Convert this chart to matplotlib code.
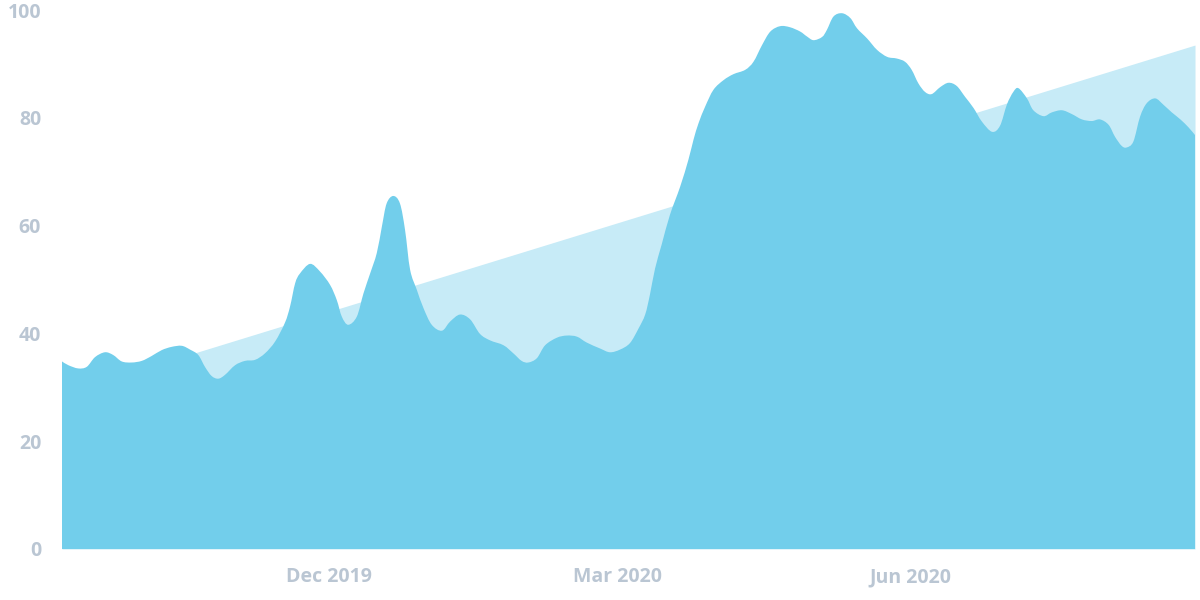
import pandas as pd
import matplotlib
matplotlib.use("Agg")
import matplotlib.pyplot as plt
import matplotlib.dates as mdates
from matplotlib.path import Path
from matplotlib.patches import PathPatch

# days after the first sample, and the value
start_date = "2019-09-08"
day_offsets = [
    0, 2, 5.1, 7.8, 10.4, 13.5, 16.1, 18.8, 21.9, 25.1, 28.2, 31.4, 34.5, 37.7, 40.3, 42.9,
    45.0, 47.1, 49.2, 51.3, 54.5, 57.6, 60.8, 63.9, 67.1, 70.2, 71.8, 73.4, 74.9, 78.1, 81.2,
    84.4, 86.5, 88.1, 90.1, 92.8, 94.9, 97.0, 99.1, 100.7, 102.2, 104.3, 106.4, 108.0, 109.6,
    111.7, 113.8, 116.4, 119.6, 122.2, 125.3, 128.5, 131.6, 134.8, 139.0, 142.1, 144.7, 146.8,
    149.5, 152.1, 155.8, 158.9, 162.1, 165.2, 169.4, 172.5, 175.7, 178.8, 181.5, 183.6, 185.1,
    186.7, 188.8, 191.4, 194.6, 197.2, 198.8, 200.4, 202.5, 205.1, 208.3, 211.4, 215.1, 217.7,
    220.4, 223.0, 226.1, 229.2, 232.4, 234.5, 236.6, 239.3, 240.8, 242.9, 245.6, 248.2, 250.3,
    253.5, 256.6, 259.8, 262.8, 265.4, 267.5, 269.6, 271.7, 273.8, 276.5, 279.1, 281.7, 284.3,
    287.0, 289.6, 292.8, 295.3, 297.5, 299.5, 301.1, 303.8, 305.8, 309.0, 311.6, 314.8, 317.9,
    321.1, 324.2, 326.8, 329.5, 331.5, 333.6, 335.2, 337.3, 339.4, 341.5, 344.2, 346.8, 349.4,
    352.1, 354.7, 356.7,
]
values = [
    34.8, 34.1, 33.5, 33.8, 35.6, 36.5, 36.0, 34.8, 34.6, 34.9, 35.8, 36.9, 37.5, 37.7, 37.0, 36.0,
    33.8, 32.1, 31.6, 32.3, 34.1, 34.9, 35.1, 36.3, 38.5, 42.0, 45.0, 49.3, 51.1, 52.9, 51.5,
    49.0, 46.2, 43.1, 41.6, 43.1, 47.4, 51.1, 54.9, 59.8, 64.1, 65.5, 64.1, 59.2, 51.8,
    48.1, 44.7, 41.6, 40.5, 42.2, 43.5, 42.6, 39.9, 38.7, 37.8, 36.3, 34.9, 34.6,
    35.4, 37.8, 39.2, 39.6, 39.4, 38.3, 37.2, 36.5, 37.0, 38.2, 40.9, 43.5, 47.2,
    52.0, 56.5, 62.0, 67.2, 72.2, 75.9, 79.0, 82.1, 85.2, 87.0, 88.1, 88.9, 90.4,
    93.5, 96.0, 97.0, 96.8, 96.0, 95.1, 94.4, 95.0, 96.3, 98.8, 99.4, 98.5, 96.6,
    94.7, 92.6, 91.3, 91.0, 90.4, 88.9, 86.4, 84.8, 84.4, 85.7, 86.5, 85.9, 83.9,
    81.8, 79.3, 77.4, 78.5, 82.5, 84.8, 85.5, 83.6, 81.4, 80.3, 81.0, 81.4, 80.7,
    79.7, 79.4, 79.7, 78.7, 76.5, 74.8, 74.5, 75.6, 80.2, 82.7, 83.6, 82.4, 81.0,
    79.7, 78.2, 76.8,
]
# linear trend, first and last value
trend_values = [28.8, 93.5]

dates = pd.to_datetime(start_date) + pd.to_timedelta(day_offsets, unit="D")
trend_dates = [dates[0], dates[-1]]

main_color = "#72CEEB"
trend_color = "#C7EBF7"
label_color = "#BAC6D3"

plt.rcParams['font.family'] = ['Open Sans', 'DejaVu Sans']


def smooth_area(xs, ys, base=0.0):
    # catmull-rom curve through the points, closed down to the baseline
    verts = [(xs[0], base), (xs[0], ys[0])]
    codes = [Path.MOVETO, Path.LINETO]
    n = len(xs)
    for i in range(n - 1):
        x0, y0 = (xs[i - 1], ys[i - 1]) if i > 0 else (xs[i], ys[i])
        x1, y1 = xs[i], ys[i]
        x2, y2 = xs[i + 1], ys[i + 1]
        x3, y3 = (xs[i + 2], ys[i + 2]) if i + 2 < n else (x2, y2)
        c1 = (x1 + (x2 - x0) / 6, y1 + (y2 - y0) / 6)
        c2 = (x2 - (x3 - x1) / 6, y2 - (y3 - y1) / 6)
        verts += [c1, c2, (x2, y2)]
        codes += [Path.CURVE4] * 3
    verts += [(xs[-1], base), (xs[0], base)]
    codes += [Path.LINETO, Path.CLOSEPOLY]
    return Path(verts, codes)


fig = plt.figure(figsize=(12, 6), dpi=100)
ax = fig.add_axes([62 / 1200, 51 / 600, 1133 / 1200, 539 / 600])

ax.fill_between(trend_dates, trend_values, 0, color=trend_color, linewidth=0)

xnum = mdates.date2num(dates)
ax.add_patch(PathPatch(smooth_area(list(xnum), values), facecolor=main_color, linewidth=0))

ax.set_xlim(dates[0], dates[-1])
ax.set_ylim(0, 100)
ax.set_yticks([0, 20, 40, 60, 80, 100])

ax.xaxis.set_major_locator(mdates.MonthLocator(bymonth=[3, 6, 12]))
ax.xaxis.set_major_formatter(mdates.DateFormatter('%b %Y'))

for s in ax.spines.values():
    s.set_visible(False)
ax.tick_params(axis='both', length=0, colors=label_color, labelsize=14)
ax.tick_params(axis='y', pad=15)
ax.tick_params(axis='x', pad=13)
for lab in ax.get_xticklabels() + ax.get_yticklabels():
    lab.set_fontweight('bold')

plt.savefig('out.png', dpi=100)
